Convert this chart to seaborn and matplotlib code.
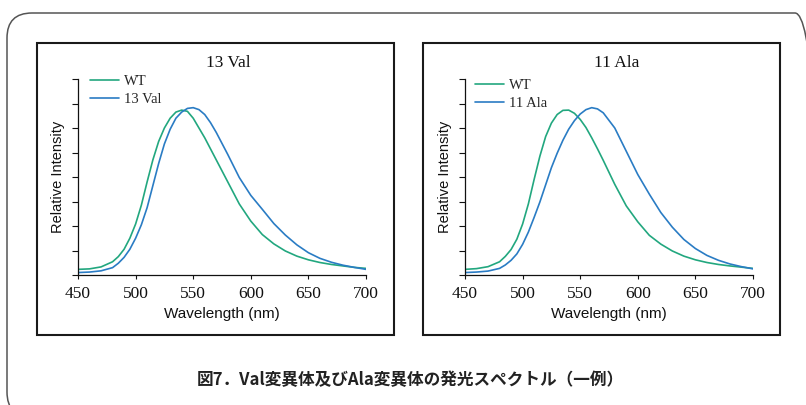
import numpy as np
import pandas as pd
import matplotlib
matplotlib.use("Agg")
import matplotlib.pyplot as plt
from matplotlib.patches import FancyBboxPatch, Rectangle
from matplotlib.transforms import IdentityTransform
import seaborn as sns

# ---------------- data ----------------
wavelength = [450, 460, 470, 480, 485, 490, 495, 500, 505, 510, 515, 520, 525, 530,
              535, 540, 545, 550, 555, 560, 565, 570, 580, 590, 600, 610, 620, 630,
              640, 650, 660, 670, 680, 690, 700]

left_wt = [0.23, 0.25, 0.33, 0.54, 0.75, 1.05, 1.50, 2.08, 2.85, 3.80, 4.70, 5.45, 6.00, 6.40,
           6.65, 6.73, 6.68, 6.40, 6.00, 5.60, 5.15, 4.70, 3.80, 2.90, 2.20, 1.65, 1.27, 0.98,
           0.77, 0.62, 0.51, 0.43, 0.37, 0.31, 0.27]
left_val = [0.10, 0.12, 0.17, 0.30, 0.48, 0.72, 1.05, 1.50, 2.05, 2.75, 3.65, 4.55, 5.35, 5.95,
            6.40, 6.65, 6.80, 6.83, 6.75, 6.55, 6.22, 5.82, 4.92, 3.98, 3.25, 2.68, 2.10, 1.63,
            1.23, 0.91, 0.68, 0.52, 0.40, 0.31, 0.23]
right_wt = [0.23, 0.26, 0.34, 0.54, 0.76, 1.04, 1.46, 2.08, 2.90, 3.90, 4.85, 5.65, 6.20, 6.55,
            6.72, 6.73, 6.60, 6.35, 6.02, 5.60, 5.15, 4.68, 3.70, 2.82, 2.17, 1.62, 1.26, 0.98,
            0.77, 0.62, 0.51, 0.43, 0.37, 0.32, 0.27]
right_ala = [0.10, 0.12, 0.16, 0.27, 0.41, 0.60, 0.86, 1.25, 1.75, 2.35, 2.98, 3.68, 4.38, 4.97,
             5.50, 5.95, 6.30, 6.57, 6.75, 6.83, 6.78, 6.62, 6.00, 5.05, 4.10, 3.30, 2.55, 1.95,
             1.45, 1.08, 0.80, 0.60, 0.45, 0.34, 0.25]

panel_titles = ["13 Val", "11 Ala"]
series_labels = [["WT", "13 Val"], ["WT", "11 Ala"]]
xticks = [450, 500, 550, 600, 650, 700]
caption = "図7．Val変異体及びAla変異体の発光スペクトル（一例）"

GREEN = "#22a77f"
BLUE = "#2a7cc4"

# ---------------- figure ----------------
sns.set_style("ticks")
plt.rcParams["font.family"] = ["Liberation Serif", "DejaVu Serif"]
plt.rcParams["font.serif"] = ["Liberation Serif", "DejaVu Serif"]

W, H = 806, 405
fig = plt.figure(figsize=(W / 100, H / 100), dpi=100)
fig.patch.set_facecolor("white")

def fx(px):
    return px / W

def fy(py):  # py measured from top
    return 1 - py / H

# outer rounded frame (pixel coords, origin bottom-left)
outer = FancyBboxPatch((7, H - 417), 820 - 7, 417 - 13,
                       boxstyle="round,pad=0,rounding_size=25",
                       transform=IdentityTransform(), fill=False,
                       edgecolor="#555555", linewidth=1.1, clip_on=False)
fig.add_artist(outer)

# panel boxes
for (x0, x1) in [(37, 394), (423, 780)]:
    r = Rectangle((x0, H - 335), x1 - x0, 335 - 43, transform=IdentityTransform(),
                  fill=False, edgecolor="#1a1a1a", linewidth=1.5, clip_on=False)
    fig.add_artist(r)

axes_px = [(78, 366), (465, 753)]
data_sets = [(left_wt, left_val), (right_wt, right_ala)]
title_x = [228, 617]
legend_px = [(90, 75), (475, 79)]

for i, ((x0, x1), (wt, mut)) in enumerate(zip(axes_px, data_sets)):
    ax = fig.add_axes([fx(x0), fy(275), fx(x1 - x0), (275 - 79) / H])
    df = pd.DataFrame({
        "Wavelength": wavelength * 2,
        "Intensity": list(wt) + list(mut),
        "Series": [series_labels[i][0]] * len(wt) + [series_labels[i][1]] * len(mut),
    })
    sns.lineplot(data=df, x="Wavelength", y="Intensity", hue="Series",
                 palette=[GREEN, BLUE], linewidth=1.2, ax=ax, legend=True)
    ax.set_xlim(450, 700)
    ax.set_ylim(0, 8)
    ax.set_xticks(xticks)
    ax.set_xticklabels([str(t) for t in xticks])
    ax.set_yticks(np.arange(0, 9, 1))
    ax.set_yticklabels([])
    ax.tick_params(axis="x", length=3, width=0.8, pad=5, colors="#111111",
                   labelsize=12.5)
    ax.tick_params(axis="y", length=4, width=0.8, colors="#111111")
    for s in ["top", "right"]:
        ax.spines[s].set_visible(False)
    for s in ["left", "bottom"]:
        ax.spines[s].set_linewidth(0.9)
        ax.spines[s].set_color("#111111")
    ax.set_xlabel("")
    ax.set_ylabel("")
    ax.patch.set_alpha(0)

    handles, labels = ax.get_legend_handles_labels()
    lx, ly = legend_px[i]
    ax.legend(handles, labels, loc="upper left",
              bbox_to_anchor=(fx(lx), fy(ly)), bbox_transform=fig.transFigure,
              frameon=False, borderpad=0, borderaxespad=0,
              handlelength=2.0, handletextpad=0.3, labelspacing=0.3,
              prop={"family": "Liberation Serif", "size": 10.5})

    fig.text(fx(title_x[i]), fy(63), panel_titles[i], ha="center", va="center",
             family="Liberation Serif", fontsize=12.5, color="#111111")
    fig.text(fx((x0 + x1) / 2), fy(314), "Wavelength (nm)", ha="center", va="center",
             family="Liberation Sans", fontsize=11, color="#111111")
    fig.text(fx(x0 - 20), fy(177), "Relative Intensity", ha="center", va="center",
             rotation=90, family="Liberation Sans", fontsize=10.5, color="#111111")

fig.text(fx(410), fy(380), caption, ha="center", va="center",
         family=["Noto Sans CJK JP", "DejaVu Sans"], fontweight="bold",
         fontsize=12, color="#222222")

fig.savefig("out.png", dpi=100, facecolor="white")
